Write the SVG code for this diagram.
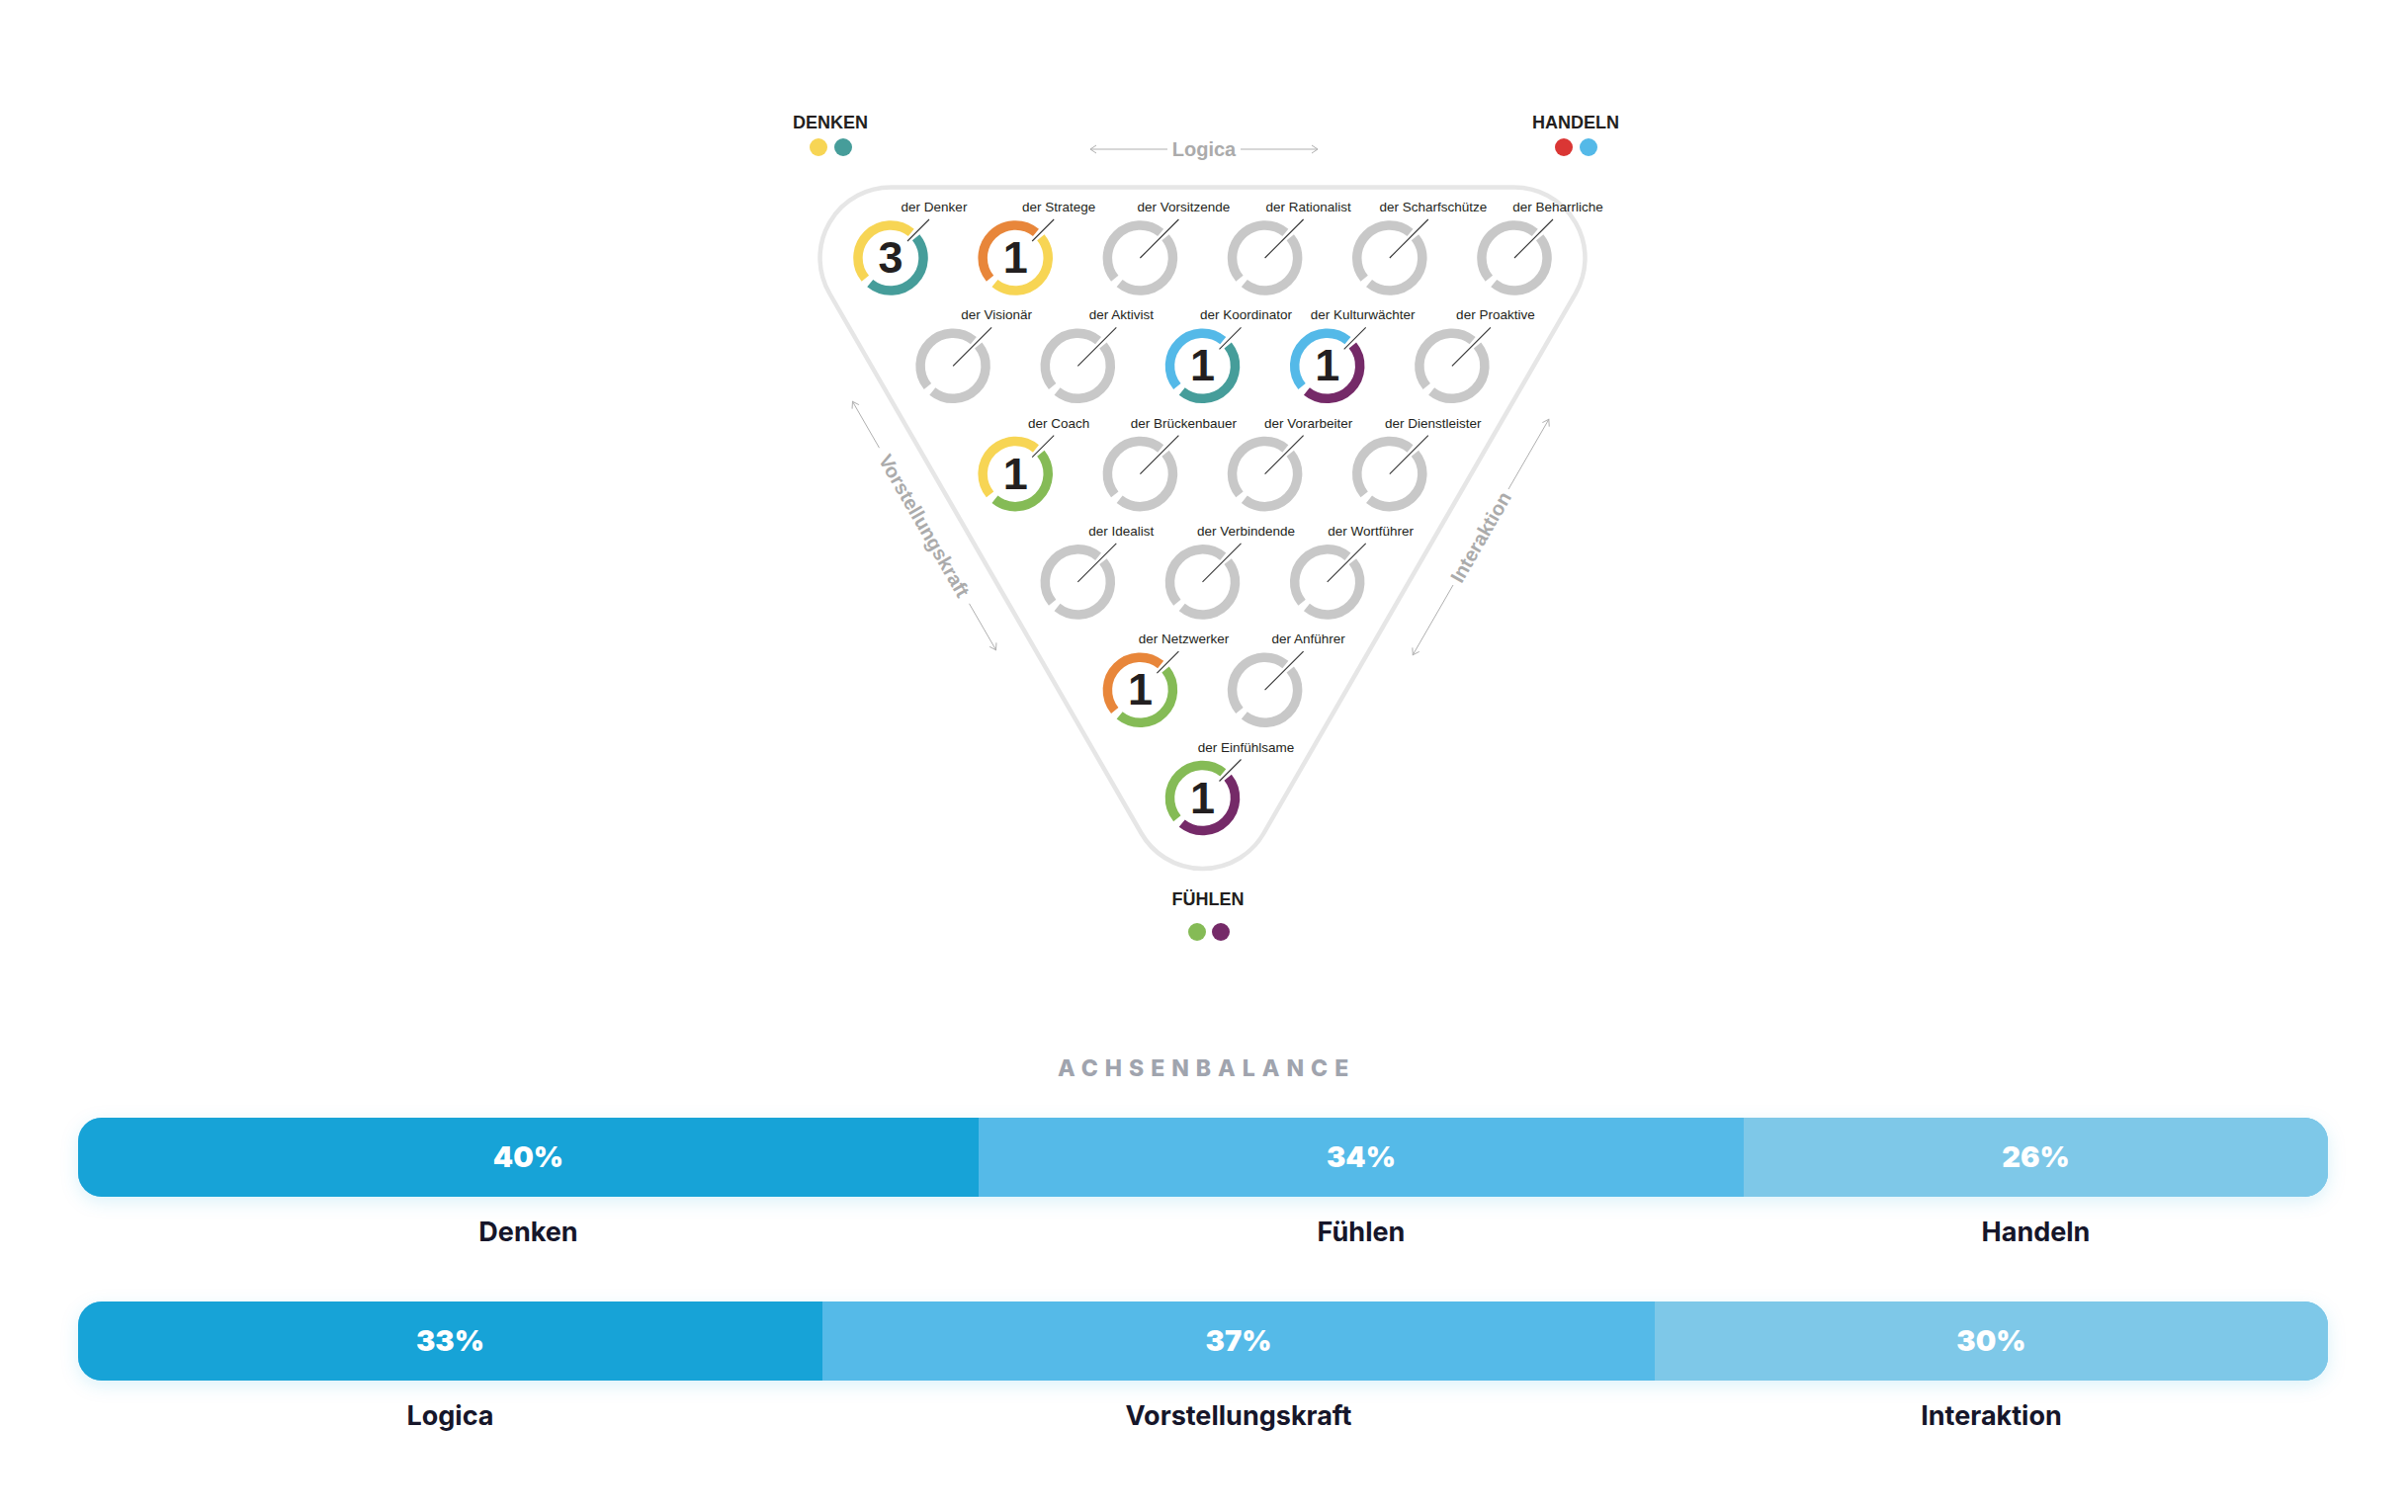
<svg xmlns="http://www.w3.org/2000/svg" xmlns:xlink="http://www.w3.org/1999/xlink" width="2436" height="1530" viewBox="0 0 2436 1530">
<style>
.lbl{font-family:"Liberation Sans",Arial,sans-serif;font-size:13.5px;fill:#231f20;text-anchor:middle}
.num{font-family:"Liberation Sans",Arial,sans-serif;font-size:45px;font-weight:bold;fill:#231f20;text-anchor:middle}
.corner{font-family:"Liberation Sans",Arial,sans-serif;font-size:18px;font-weight:bold;fill:#231f20;text-anchor:middle}
.axis{font-family:"Liberation Sans",Arial,sans-serif;font-size:20px;font-weight:bold;fill:#ababab;text-anchor:middle}
.axl{stroke:#b0b0b0;stroke-width:1;fill:none}
.ring{fill:none;stroke-width:9.5}
.g{stroke:#c8c8c8}
.yel{stroke:#f7d554}.tea{stroke:#469d9a}.ora{stroke:#e8863a}.blu{stroke:#54b9e8}.pur{stroke:#752a68}.grn{stroke:#85bb56}
.lead{stroke:#333;stroke-width:1.1}
.pct{font-family:Inter,"Liberation Sans",sans-serif;font-size:29px;font-weight:900;fill:#fff;text-anchor:middle}
.blab{font-family:Inter,"Liberation Sans",sans-serif;font-size:27px;font-weight:700;fill:#16162a;text-anchor:middle}
.title{font-family:Inter,"Liberation Sans",sans-serif;font-size:23px;font-weight:800;fill:#a0a4ae;letter-spacing:7px}
</style>
<defs>
<marker id="ah" markerWidth="10" markerHeight="10" refX="8" refY="5" orient="auto-start-reverse" markerUnits="userSpaceOnUse">
<path d="M2,1 L8,5 L2,9" fill="none" stroke="#b0b0b0" stroke-width="1"/>
</marker>
<path id="arcA" d="M-25.65,20.77 A33,33 0 0 1 20.77,-25.65"/>
<path id="arcB" d="M25.65,-20.77 A33,33 0 0 1 -20.77,25.65"/>
<filter id="sh" x="-5%" y="-50%" width="110%" height="200%">
<feDropShadow dx="0" dy="5" stdDeviation="9" flood-color="#17a3d7" flood-opacity="0.14"/>
</filter>
<clipPath id="c1"><rect x="79" y="1131" width="2276" height="80" rx="24"/></clipPath>
<clipPath id="c2"><rect x="79" y="1317" width="2276" height="80" rx="24"/></clipPath>
</defs>
<rect width="2436" height="1530" fill="#fff"/>

<g id="outline">
<path d="M901,189.5 L1532,189.5 A71.5,71.5 0 0 1 1593.9,296.75 L1278.4,843.25 A71.5,71.5 0 0 1 1154.6,843.25 L839.1,296.75 A71.5,71.5 0 0 1 901,189.5 Z" fill="none" stroke="#e6e6e6" stroke-width="4.5"/>
</g>

<g id="corner-denken">
<text class="corner" x="840" y="130">DENKEN</text>
<circle cx="828" cy="149" r="9" fill="#f7d554"/><circle cx="853" cy="149" r="9" fill="#469d9a"/>
</g>
<g id="corner-handeln">
<text class="corner" x="1594" y="130">HANDELN</text>
<circle cx="1582" cy="149" r="9" fill="#da3634"/><circle cx="1607" cy="149" r="9" fill="#54b9e8"/>
</g>
<g id="corner-fuehlen">
<text class="corner" x="1222" y="916">FÜHLEN</text>
<circle cx="1211" cy="943" r="9" fill="#85bb56"/><circle cx="1235" cy="943" r="9" fill="#752a68"/>
</g>

<g id="connectors">
<line class="axl" x1="1103" y1="151" x2="1181" y2="151" marker-start="url(#ah)"/>
<line class="axl" x1="1255" y1="151" x2="1333" y2="151" marker-end="url(#ah)"/>
<text class="axis" x="1218" y="158">Logica</text>
<line class="axl" x1="862.5" y1="406.4" x2="889.5" y2="453.2" marker-start="url(#ah)"/>
<line class="axl" x1="980.5" y1="610.8" x2="1007.5" y2="657.6" marker-end="url(#ah)"/>
<text class="axis" transform="translate(935,532) rotate(60)" y="7">Vorstellungskraft</text>
<line class="axl" x1="1429.3" y1="662.6" x2="1470" y2="592" marker-start="url(#ah)"/>
<line class="axl" x1="1526" y1="495" x2="1566.8" y2="424.4" marker-end="url(#ah)"/>
<text class="axis" transform="translate(1498,543.5) rotate(-60)" y="7">Interaktion</text>
</g>

<!-- Row 0 -->
<g id="der-denker" transform="translate(901,261)">
<use href="#arcA" class="ring yel"/><use href="#arcB" class="ring tea"/>
<line class="lead" x1="17" y1="-17" x2="39" y2="-39"/>
<text class="num" y="15">3</text>
<text class="lbl" x="44" y="-47">der Denker</text>
</g>
<g id="der-stratege" transform="translate(1027.2,261)">
<use href="#arcA" class="ring ora"/><use href="#arcB" class="ring yel"/>
<line class="lead" x1="17" y1="-17" x2="39" y2="-39"/>
<text class="num" y="15">1</text>
<text class="lbl" x="44" y="-47">der Stratege</text>
</g>
<g id="der-vorsitzende" transform="translate(1153.4,261)">
<use href="#arcA" class="ring g"/><use href="#arcB" class="ring g"/>
<line class="lead" x1="0" y1="0" x2="39" y2="-39"/>
<text class="lbl" x="44" y="-47">der Vorsitzende</text>
</g>
<g id="der-rationalist" transform="translate(1279.6,261)">
<use href="#arcA" class="ring g"/><use href="#arcB" class="ring g"/>
<line class="lead" x1="0" y1="0" x2="39" y2="-39"/>
<text class="lbl" x="44" y="-47">der Rationalist</text>
</g>
<g id="der-scharfschuetze" transform="translate(1405.8,261)">
<use href="#arcA" class="ring g"/><use href="#arcB" class="ring g"/>
<line class="lead" x1="0" y1="0" x2="39" y2="-39"/>
<text class="lbl" x="44" y="-47">der Scharfschütze</text>
</g>
<g id="der-beharrliche" transform="translate(1532,261)">
<use href="#arcA" class="ring g"/><use href="#arcB" class="ring g"/>
<line class="lead" x1="0" y1="0" x2="39" y2="-39"/>
<text class="lbl" x="44" y="-47">der Beharrliche</text>
</g>

<!-- Row 1 -->
<g id="der-visionaer" transform="translate(964.1,370.3)">
<use href="#arcA" class="ring g"/><use href="#arcB" class="ring g"/>
<line class="lead" x1="0" y1="0" x2="39" y2="-39"/>
<text class="lbl" x="44" y="-47">der Visionär</text>
</g>
<g id="der-aktivist" transform="translate(1090.3,370.3)">
<use href="#arcA" class="ring g"/><use href="#arcB" class="ring g"/>
<line class="lead" x1="0" y1="0" x2="39" y2="-39"/>
<text class="lbl" x="44" y="-47">der Aktivist</text>
</g>
<g id="der-koordinator" transform="translate(1216.5,370.3)">
<use href="#arcA" class="ring blu"/><use href="#arcB" class="ring tea"/>
<line class="lead" x1="17" y1="-17" x2="39" y2="-39"/>
<text class="num" y="15">1</text>
<text class="lbl" x="44" y="-47">der Koordinator</text>
</g>
<g id="der-kulturwaechter" transform="translate(1342.7,370.3)">
<use href="#arcA" class="ring blu"/><use href="#arcB" class="ring pur"/>
<line class="lead" x1="17" y1="-17" x2="39" y2="-39"/>
<text class="num" y="15">1</text>
<text class="lbl" x="36" y="-47">der Kulturwächter</text>
</g>
<g id="der-proaktive" transform="translate(1468.9,370.3)">
<use href="#arcA" class="ring g"/><use href="#arcB" class="ring g"/>
<line class="lead" x1="0" y1="0" x2="39" y2="-39"/>
<text class="lbl" x="44" y="-47">der Proaktive</text>
</g>

<!-- Row 2 -->
<g id="der-coach" transform="translate(1027.2,479.6)">
<use href="#arcA" class="ring yel"/><use href="#arcB" class="ring grn"/>
<line class="lead" x1="17" y1="-17" x2="39" y2="-39"/>
<text class="num" y="15">1</text>
<text class="lbl" x="44" y="-47">der Coach</text>
</g>
<g id="der-brueckenbauer" transform="translate(1153.4,479.6)">
<use href="#arcA" class="ring g"/><use href="#arcB" class="ring g"/>
<line class="lead" x1="0" y1="0" x2="39" y2="-39"/>
<text class="lbl" x="44" y="-47">der Brückenbauer</text>
</g>
<g id="der-vorarbeiter" transform="translate(1279.6,479.6)">
<use href="#arcA" class="ring g"/><use href="#arcB" class="ring g"/>
<line class="lead" x1="0" y1="0" x2="39" y2="-39"/>
<text class="lbl" x="44" y="-47">der Vorarbeiter</text>
</g>
<g id="der-dienstleister" transform="translate(1405.8,479.6)">
<use href="#arcA" class="ring g"/><use href="#arcB" class="ring g"/>
<line class="lead" x1="0" y1="0" x2="39" y2="-39"/>
<text class="lbl" x="44" y="-47">der Dienstleister</text>
</g>

<!-- Row 3 -->
<g id="der-idealist" transform="translate(1090.3,588.9)">
<use href="#arcA" class="ring g"/><use href="#arcB" class="ring g"/>
<line class="lead" x1="0" y1="0" x2="39" y2="-39"/>
<text class="lbl" x="44" y="-47">der Idealist</text>
</g>
<g id="der-verbindende" transform="translate(1216.5,588.9)">
<use href="#arcA" class="ring g"/><use href="#arcB" class="ring g"/>
<line class="lead" x1="0" y1="0" x2="39" y2="-39"/>
<text class="lbl" x="44" y="-47">der Verbindende</text>
</g>
<g id="der-wortfuehrer" transform="translate(1342.7,588.9)">
<use href="#arcA" class="ring g"/><use href="#arcB" class="ring g"/>
<line class="lead" x1="0" y1="0" x2="39" y2="-39"/>
<text class="lbl" x="44" y="-47">der Wortführer</text>
</g>

<!-- Row 4 -->
<g id="der-netzwerker" transform="translate(1153.4,698.2)">
<use href="#arcA" class="ring ora"/><use href="#arcB" class="ring grn"/>
<line class="lead" x1="17" y1="-17" x2="39" y2="-39"/>
<text class="num" y="15">1</text>
<text class="lbl" x="44" y="-47">der Netzwerker</text>
</g>
<g id="der-anfuehrer" transform="translate(1279.6,698.2)">
<use href="#arcA" class="ring g"/><use href="#arcB" class="ring g"/>
<line class="lead" x1="0" y1="0" x2="39" y2="-39"/>
<text class="lbl" x="44" y="-47">der Anführer</text>
</g>

<!-- Row 5 -->
<g id="der-einfuehlsame" transform="translate(1216.5,807.5)">
<use href="#arcA" class="ring grn"/><use href="#arcB" class="ring pur"/>
<line class="lead" x1="17" y1="-17" x2="39" y2="-39"/>
<text class="num" y="15">1</text>
<text class="lbl" x="44" y="-47">der Einfühlsame</text>
</g>

<g id="achsenbalance">
<text class="title" x="1070" y="1089">ACHSENBALANCE</text>
</g>

<g id="bar-dfh">
<rect x="79" y="1131" width="2276" height="80" rx="24" fill="#55bae8" filter="url(#sh)"/>
<g clip-path="url(#c1)">
<rect x="79" y="1131" width="911" height="80" fill="#17a3d7"/>
<rect x="990" y="1131" width="774" height="80" fill="#55bae8"/>
<rect x="1764" y="1131" width="591" height="80" fill="#7ec8e8"/>
</g>
<text class="pct" x="534.5" y="1181">40%</text>
<text class="pct" x="1377" y="1181">34%</text>
<text class="pct" x="2059.5" y="1181">26%</text>
<text class="blab" x="534.5" y="1256">Denken</text>
<text class="blab" x="1377" y="1256">Fühlen</text>
<text class="blab" x="2059.5" y="1256">Handeln</text>
</g>

<g id="bar-lvi">
<rect x="79" y="1317" width="2276" height="80" rx="24" fill="#55bae8" filter="url(#sh)"/>
<g clip-path="url(#c2)">
<rect x="79" y="1317" width="753" height="80" fill="#17a3d7"/>
<rect x="832" y="1317" width="842" height="80" fill="#55bae8"/>
<rect x="1674" y="1317" width="681" height="80" fill="#7ec8e8"/>
</g>
<text class="pct" x="455.5" y="1367">33%</text>
<text class="pct" x="1253" y="1367">37%</text>
<text class="pct" x="2014.5" y="1367">30%</text>
<text class="blab" x="455.5" y="1442">Logica</text>
<text class="blab" x="1253" y="1442">Vorstellungskraft</text>
<text class="blab" x="2014.5" y="1442">Interaktion</text>
</g>
</svg>
